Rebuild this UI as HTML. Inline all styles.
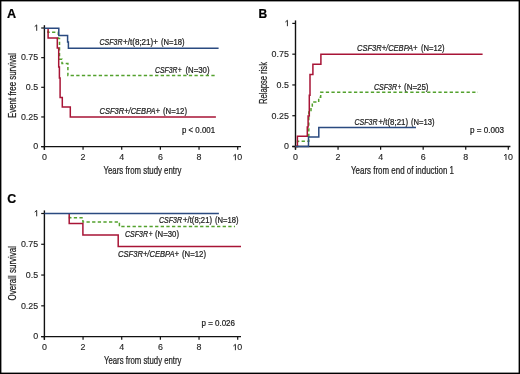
<!DOCTYPE html>
<html><head><meta charset="utf-8"><title>Figure</title>
<style>
html,body{margin:0;padding:0;background:#fff;}
body{width:520px;height:374px;overflow:hidden;position:relative;font-family:"Liberation Sans",sans-serif;}
</style></head><body>
<svg width="520" height="374" viewBox="0 0 520 374" style="position:absolute;left:0;top:0;will-change:transform" font-family="Liberation Sans, sans-serif">
<style>text{stroke:#1e1e1e;stroke-width:0.24px;paint-order:stroke fill;} text.tk{stroke-width:0.12px;}</style>
<rect x="0" y="0" width="520" height="374" fill="#ffffff"/>
<rect x="0.7" y="0.7" width="518.6" height="372.6" fill="none" stroke="#000" stroke-width="1.4"/>
<text x="7.0" y="17.6" font-size="12.6" text-anchor="start" fill="#000" font-weight="bold">A</text>
<line x1="44.4" y1="25.2" x2="44.4" y2="149.79999999999998" stroke="#111111" stroke-width="1.4"/>
<line x1="41.199999999999996" y1="146.6" x2="241.0" y2="146.6" stroke="#111111" stroke-width="1.4"/>
<line x1="41.199999999999996" y1="28.0" x2="44.4" y2="28.0" stroke="#111111" stroke-width="1.2"/>
<line x1="41.199999999999996" y1="57.650000000000006" x2="44.4" y2="57.650000000000006" stroke="#111111" stroke-width="1.2"/>
<line x1="41.199999999999996" y1="87.3" x2="44.4" y2="87.3" stroke="#111111" stroke-width="1.2"/>
<line x1="41.199999999999996" y1="116.94999999999999" x2="44.4" y2="116.94999999999999" stroke="#111111" stroke-width="1.2"/>
<line x1="41.199999999999996" y1="146.6" x2="44.4" y2="146.6" stroke="#111111" stroke-width="1.2"/>
<line x1="44.4" y1="146.6" x2="44.4" y2="149.79999999999998" stroke="#111111" stroke-width="1.2"/>
<line x1="83.06" y1="146.6" x2="83.06" y2="149.79999999999998" stroke="#111111" stroke-width="1.2"/>
<line x1="121.72" y1="146.6" x2="121.72" y2="149.79999999999998" stroke="#111111" stroke-width="1.2"/>
<line x1="160.38" y1="146.6" x2="160.38" y2="149.79999999999998" stroke="#111111" stroke-width="1.2"/>
<line x1="199.04" y1="146.6" x2="199.04" y2="149.79999999999998" stroke="#111111" stroke-width="1.2"/>
<line x1="237.7" y1="146.6" x2="237.7" y2="149.79999999999998" stroke="#111111" stroke-width="1.2"/>
<path d="M36.70,30.80 L36.70,24.90 L34.70,26.60" fill="none" stroke="#1e1e1e" stroke-width="0.95" stroke-linejoin="miter"/>
<text x="38.2" y="60.45" font-size="8.9" text-anchor="end" fill="#1e1e1e" class="tk">0.75</text>
<text x="38.2" y="90.1" font-size="8.9" text-anchor="end" fill="#1e1e1e" class="tk">0.5</text>
<text x="38.2" y="119.74999999999999" font-size="8.9" text-anchor="end" fill="#1e1e1e" class="tk">0.25</text>
<text x="38.2" y="149.4" font-size="8.9" text-anchor="end" fill="#1e1e1e" class="tk">0</text>
<text x="44.4" y="160.2" font-size="8.9" text-anchor="middle" fill="#1e1e1e" class="tk">0</text>
<text x="83.06" y="160.2" font-size="8.9" text-anchor="middle" fill="#1e1e1e" class="tk">2</text>
<text x="121.72" y="160.2" font-size="8.9" text-anchor="middle" fill="#1e1e1e" class="tk">4</text>
<text x="160.38" y="160.2" font-size="8.9" text-anchor="middle" fill="#1e1e1e" class="tk">6</text>
<text x="199.04" y="160.2" font-size="8.9" text-anchor="middle" fill="#1e1e1e" class="tk">8</text>
<path d="M235.40,160.20 L235.40,154.30 L233.40,156.00" fill="none" stroke="#1e1e1e" stroke-width="0.95" stroke-linejoin="miter"/>
<text x="239.79999999999998" y="160.2" font-size="8.9" text-anchor="middle" fill="#1e1e1e" class="tk">0</text>
<path d="M48.00,28.30 L48.00,32.20 L58.30,32.20 L58.30,38.60 L59.50,38.60 L59.50,59.30 L62.00,59.30 L62.00,63.60 L67.90,63.60 L67.90,75.60 L215.00,75.60" fill="none" stroke="#53a12d" stroke-width="1.5" stroke-dasharray="3.3 2.33" stroke-dashoffset="3.29"/>
<path d="M48.10,28.30 L48.10,37.90 L57.30,37.90 L57.30,47.90 L58.70,47.90 L58.70,67.00 L59.40,67.00 L59.40,78.00 L60.10,78.00 L60.10,97.40 L62.30,97.40 L62.30,107.10 L70.30,107.10 L70.30,117.10 L215.90,117.10" fill="none" stroke="#a81436" stroke-width="1.5" stroke-linejoin="miter" stroke-linecap="butt"/>
<path d="M44.40,28.30 L58.80,28.30 L58.80,35.40 L67.60,35.40 L67.60,42.00 L68.40,42.00 L68.40,48.20 L218.60,48.20" fill="none" stroke="#2a4a80" stroke-width="1.5" stroke-linejoin="miter" stroke-linecap="butt"/>
<text x="258.5" y="17.6" font-size="12.0" text-anchor="start" fill="#000" font-weight="bold">B</text>
<line x1="295.5" y1="20.4" x2="295.5" y2="149.7" stroke="#111111" stroke-width="1.4"/>
<line x1="292.3" y1="146.5" x2="510.4" y2="146.5" stroke="#111111" stroke-width="1.4"/>
<line x1="292.3" y1="23.400000000000006" x2="295.5" y2="23.400000000000006" stroke="#111111" stroke-width="1.2"/>
<line x1="292.3" y1="54.17500000000001" x2="295.5" y2="54.17500000000001" stroke="#111111" stroke-width="1.2"/>
<line x1="292.3" y1="84.95" x2="295.5" y2="84.95" stroke="#111111" stroke-width="1.2"/>
<line x1="292.3" y1="115.725" x2="295.5" y2="115.725" stroke="#111111" stroke-width="1.2"/>
<line x1="292.3" y1="146.5" x2="295.5" y2="146.5" stroke="#111111" stroke-width="1.2"/>
<line x1="295.5" y1="146.5" x2="295.5" y2="149.7" stroke="#111111" stroke-width="1.2"/>
<line x1="338.06" y1="146.5" x2="338.06" y2="149.7" stroke="#111111" stroke-width="1.2"/>
<line x1="380.62" y1="146.5" x2="380.62" y2="149.7" stroke="#111111" stroke-width="1.2"/>
<line x1="423.18" y1="146.5" x2="423.18" y2="149.7" stroke="#111111" stroke-width="1.2"/>
<line x1="465.74" y1="146.5" x2="465.74" y2="149.7" stroke="#111111" stroke-width="1.2"/>
<line x1="508.3" y1="146.5" x2="508.3" y2="149.7" stroke="#111111" stroke-width="1.2"/>
<path d="M287.40,26.20 L287.40,20.30 L285.40,22.00" fill="none" stroke="#1e1e1e" stroke-width="0.95" stroke-linejoin="miter"/>
<text x="288.9" y="56.97500000000001" font-size="8.9" text-anchor="end" fill="#1e1e1e" class="tk">0.75</text>
<text x="288.9" y="87.75" font-size="8.9" text-anchor="end" fill="#1e1e1e" class="tk">0.5</text>
<text x="288.9" y="118.52499999999999" font-size="8.9" text-anchor="end" fill="#1e1e1e" class="tk">0.25</text>
<text x="288.9" y="149.3" font-size="8.9" text-anchor="end" fill="#1e1e1e" class="tk">0</text>
<text x="295.5" y="160.0" font-size="8.9" text-anchor="middle" fill="#1e1e1e" class="tk">0</text>
<text x="338.06" y="160.0" font-size="8.9" text-anchor="middle" fill="#1e1e1e" class="tk">2</text>
<text x="380.62" y="160.0" font-size="8.9" text-anchor="middle" fill="#1e1e1e" class="tk">4</text>
<text x="423.18" y="160.0" font-size="8.9" text-anchor="middle" fill="#1e1e1e" class="tk">6</text>
<text x="465.74" y="160.0" font-size="8.9" text-anchor="middle" fill="#1e1e1e" class="tk">8</text>
<path d="M506.00,160.00 L506.00,154.10 L504.00,155.80" fill="none" stroke="#1e1e1e" stroke-width="0.95" stroke-linejoin="miter"/>
<text x="510.40000000000003" y="160.0" font-size="8.9" text-anchor="middle" fill="#1e1e1e" class="tk">0</text>
<path d="M295.50,146.50 L297.50,146.50 L297.50,141.20 L308.80,141.20 L308.80,112.00 L311.00,112.00 L311.00,107.00 L312.30,107.00 L312.30,102.10 L318.70,102.10 L318.70,97.20 L320.70,97.20 L320.70,92.20 L478.00,92.20" fill="none" stroke="#53a12d" stroke-width="1.5" stroke-dasharray="3.3 2.33" stroke-dashoffset="5.48"/>
<path d="M295.50,146.50 L297.40,146.50 L297.40,136.20 L307.30,136.20 L307.30,127.00 L308.10,127.00 L308.10,116.00 L309.30,116.00 L309.30,95.30 L310.00,95.30 L310.00,74.60 L312.90,74.60 L312.90,64.30 L320.90,64.30 L320.90,54.20 L482.60,54.20" fill="none" stroke="#a81436" stroke-width="1.5" stroke-linejoin="miter" stroke-linecap="butt"/>
<path d="M295.50,146.50 L308.50,146.50 L308.50,136.90 L318.80,136.90 L318.80,127.40 L416.00,127.40" fill="none" stroke="#2a4a80" stroke-width="1.5" stroke-linejoin="miter" stroke-linecap="butt"/>
<text x="7.3" y="203.2" font-size="12.4" text-anchor="start" fill="#000" font-weight="bold">C</text>
<line x1="44.4" y1="210.4" x2="44.4" y2="339.8" stroke="#111111" stroke-width="1.4"/>
<line x1="41.199999999999996" y1="336.6" x2="241.0" y2="336.6" stroke="#111111" stroke-width="1.4"/>
<line x1="41.199999999999996" y1="213.5" x2="44.4" y2="213.5" stroke="#111111" stroke-width="1.2"/>
<line x1="41.199999999999996" y1="244.275" x2="44.4" y2="244.275" stroke="#111111" stroke-width="1.2"/>
<line x1="41.199999999999996" y1="275.05" x2="44.4" y2="275.05" stroke="#111111" stroke-width="1.2"/>
<line x1="41.199999999999996" y1="305.82500000000005" x2="44.4" y2="305.82500000000005" stroke="#111111" stroke-width="1.2"/>
<line x1="41.199999999999996" y1="336.6" x2="44.4" y2="336.6" stroke="#111111" stroke-width="1.2"/>
<line x1="44.4" y1="336.6" x2="44.4" y2="339.8" stroke="#111111" stroke-width="1.2"/>
<line x1="83.06" y1="336.6" x2="83.06" y2="339.8" stroke="#111111" stroke-width="1.2"/>
<line x1="121.72" y1="336.6" x2="121.72" y2="339.8" stroke="#111111" stroke-width="1.2"/>
<line x1="160.38" y1="336.6" x2="160.38" y2="339.8" stroke="#111111" stroke-width="1.2"/>
<line x1="199.04" y1="336.6" x2="199.04" y2="339.8" stroke="#111111" stroke-width="1.2"/>
<line x1="237.7" y1="336.6" x2="237.7" y2="339.8" stroke="#111111" stroke-width="1.2"/>
<path d="M36.70,216.30 L36.70,210.40 L34.70,212.10" fill="none" stroke="#1e1e1e" stroke-width="0.95" stroke-linejoin="miter"/>
<text x="38.2" y="247.07500000000002" font-size="8.9" text-anchor="end" fill="#1e1e1e" class="tk">0.75</text>
<text x="38.2" y="277.85" font-size="8.9" text-anchor="end" fill="#1e1e1e" class="tk">0.5</text>
<text x="38.2" y="308.62500000000006" font-size="8.9" text-anchor="end" fill="#1e1e1e" class="tk">0.25</text>
<text x="38.2" y="339.40000000000003" font-size="8.9" text-anchor="end" fill="#1e1e1e" class="tk">0</text>
<text x="44.4" y="350.2" font-size="8.9" text-anchor="middle" fill="#1e1e1e" class="tk">0</text>
<text x="83.06" y="350.2" font-size="8.9" text-anchor="middle" fill="#1e1e1e" class="tk">2</text>
<text x="121.72" y="350.2" font-size="8.9" text-anchor="middle" fill="#1e1e1e" class="tk">4</text>
<text x="160.38" y="350.2" font-size="8.9" text-anchor="middle" fill="#1e1e1e" class="tk">6</text>
<text x="199.04" y="350.2" font-size="8.9" text-anchor="middle" fill="#1e1e1e" class="tk">8</text>
<path d="M235.40,350.20 L235.40,344.30 L233.40,346.00" fill="none" stroke="#1e1e1e" stroke-width="0.95" stroke-linejoin="miter"/>
<text x="239.79999999999998" y="350.2" font-size="8.9" text-anchor="middle" fill="#1e1e1e" class="tk">0</text>
<path d="M69.50,213.50 L69.50,217.80 L82.90,217.80 L82.90,222.00 L119.40,222.00 L119.40,226.60 L235.00,226.60" fill="none" stroke="#53a12d" stroke-width="1.5" stroke-dasharray="3.3 2.33" stroke-dashoffset="2.66"/>
<path d="M69.20,213.50 L69.20,223.60 L82.90,223.60 L82.90,235.00 L118.20,235.00 L118.20,246.45 L241.00,246.45" fill="none" stroke="#a81436" stroke-width="1.5" stroke-linejoin="miter" stroke-linecap="butt"/>
<path d="M44.40,213.50 L218.90,213.50" fill="none" stroke="#2a4a80" stroke-width="1.5" stroke-linejoin="miter" stroke-linecap="butt"/>
<text x="99.5" y="44.8" font-size="8.6" font-style="italic" fill="#1e1e1e" textLength="23.0" lengthAdjust="spacingAndGlyphs">CSF3R</text>
<text x="123.0" y="44.8" font-size="8.6" fill="#1e1e1e" textLength="35.01" lengthAdjust="spacingAndGlyphs">+/t(8;21)+</text>
<text x="161.0" y="44.8" font-size="8.6" fill="#1e1e1e" textLength="23.56" lengthAdjust="spacingAndGlyphs">(N=18)</text>
<text x="155.0" y="72.8" font-size="8.6" font-style="italic" fill="#1e1e1e" textLength="22.52" lengthAdjust="spacingAndGlyphs">CSF3R</text>
<text x="178.0" y="72.8" font-size="8.6" fill="#1e1e1e" textLength="3.65" lengthAdjust="spacingAndGlyphs">+</text>
<text x="185.5" y="72.8" font-size="8.6" fill="#1e1e1e" textLength="24.02" lengthAdjust="spacingAndGlyphs">(N=30)</text>
<text x="99.5" y="113.6" font-size="8.6" font-style="italic" fill="#1e1e1e" textLength="60.51" lengthAdjust="spacingAndGlyphs">CSF3R+/CEBPA+</text>
<text x="163.0" y="113.6" font-size="8.6" fill="#1e1e1e" textLength="24.0" lengthAdjust="spacingAndGlyphs">(N=12)</text>
<text x="182.0" y="133.3" font-size="8.7" fill="#1e1e1e" textLength="33.01" lengthAdjust="spacingAndGlyphs">p &lt; 0.001</text>
<text x="103.5" y="174.0" font-size="10.6" fill="#1e1e1e" textLength="78.01" lengthAdjust="spacingAndGlyphs">Years from study entry</text>
<text transform="translate(16.0,118.0) rotate(-90)" x="0" y="0" font-size="10.6" fill="#1e1e1e" textLength="65.02" lengthAdjust="spacingAndGlyphs">Event free survival</text>
<text x="357.0" y="50.8" font-size="8.6" font-style="italic" fill="#1e1e1e" textLength="60.51" lengthAdjust="spacingAndGlyphs">CSF3R+/CEBPA+</text>
<text x="421.0" y="50.8" font-size="8.6" fill="#1e1e1e" textLength="23.56" lengthAdjust="spacingAndGlyphs">(N=12)</text>
<text x="374.0" y="89.6" font-size="8.6" font-style="italic" fill="#1e1e1e" textLength="23.0" lengthAdjust="spacingAndGlyphs">CSF3R</text>
<text x="398.0" y="89.6" font-size="8.6" fill="#1e1e1e" textLength="3.16" lengthAdjust="spacingAndGlyphs">+</text>
<text x="404.0" y="89.6" font-size="8.6" fill="#1e1e1e" textLength="24.52" lengthAdjust="spacingAndGlyphs">(N=25)</text>
<text x="354.5" y="124.9" font-size="8.6" font-style="italic" fill="#1e1e1e" textLength="23.0" lengthAdjust="spacingAndGlyphs">CSF3R</text>
<text x="378.5" y="124.9" font-size="8.6" fill="#1e1e1e" textLength="29.52" lengthAdjust="spacingAndGlyphs">+/t(8;21)</text>
<text x="411.0" y="124.9" font-size="8.6" fill="#1e1e1e" textLength="23.56" lengthAdjust="spacingAndGlyphs">(N=13)</text>
<text x="470.0" y="133.2" font-size="8.7" fill="#1e1e1e" textLength="34.01" lengthAdjust="spacingAndGlyphs">p = 0.003</text>
<text x="351.0" y="174.0" font-size="10.6" fill="#1e1e1e" textLength="103.01" lengthAdjust="spacingAndGlyphs">Years from end of induction 1</text>
<text transform="translate(266.8,104.0) rotate(-90)" x="0" y="0" font-size="10.6" fill="#1e1e1e" textLength="42.0" lengthAdjust="spacingAndGlyphs">Relapse risk</text>
<text x="159.0" y="223.1" font-size="8.6" font-style="italic" fill="#1e1e1e" textLength="23.0" lengthAdjust="spacingAndGlyphs">CSF3R</text>
<text x="183.0" y="223.1" font-size="8.6" fill="#1e1e1e" textLength="29.01" lengthAdjust="spacingAndGlyphs">+/t(8;21)</text>
<text x="215.0" y="223.1" font-size="8.6" fill="#1e1e1e" textLength="23.52" lengthAdjust="spacingAndGlyphs">(N=18)</text>
<text x="125.0" y="236.8" font-size="8.6" font-style="italic" fill="#1e1e1e" textLength="23.02" lengthAdjust="spacingAndGlyphs">CSF3R</text>
<text x="149.0" y="236.8" font-size="8.6" fill="#1e1e1e" textLength="3.62" lengthAdjust="spacingAndGlyphs">+</text>
<text x="155.0" y="236.8" font-size="8.6" fill="#1e1e1e" textLength="24.0" lengthAdjust="spacingAndGlyphs">(N=30)</text>
<text x="118.0" y="256.7" font-size="8.6" font-style="italic" fill="#1e1e1e" textLength="61.01" lengthAdjust="spacingAndGlyphs">CSF3R+/CEBPA+</text>
<text x="182.0" y="256.7" font-size="8.6" fill="#1e1e1e" textLength="24.06" lengthAdjust="spacingAndGlyphs">(N=12)</text>
<text x="201.5" y="326.0" font-size="8.7" fill="#1e1e1e" textLength="33.51" lengthAdjust="spacingAndGlyphs">p = 0.026</text>
<text x="104.0" y="364.0" font-size="10.6" fill="#1e1e1e" textLength="77.51" lengthAdjust="spacingAndGlyphs">Years from study entry</text>
<text transform="translate(16.1,300.5) rotate(-90)" x="0" y="0" font-size="10.6" fill="#1e1e1e" textLength="54.52" lengthAdjust="spacingAndGlyphs">Overall survival</text>
</svg>
</body></html>
